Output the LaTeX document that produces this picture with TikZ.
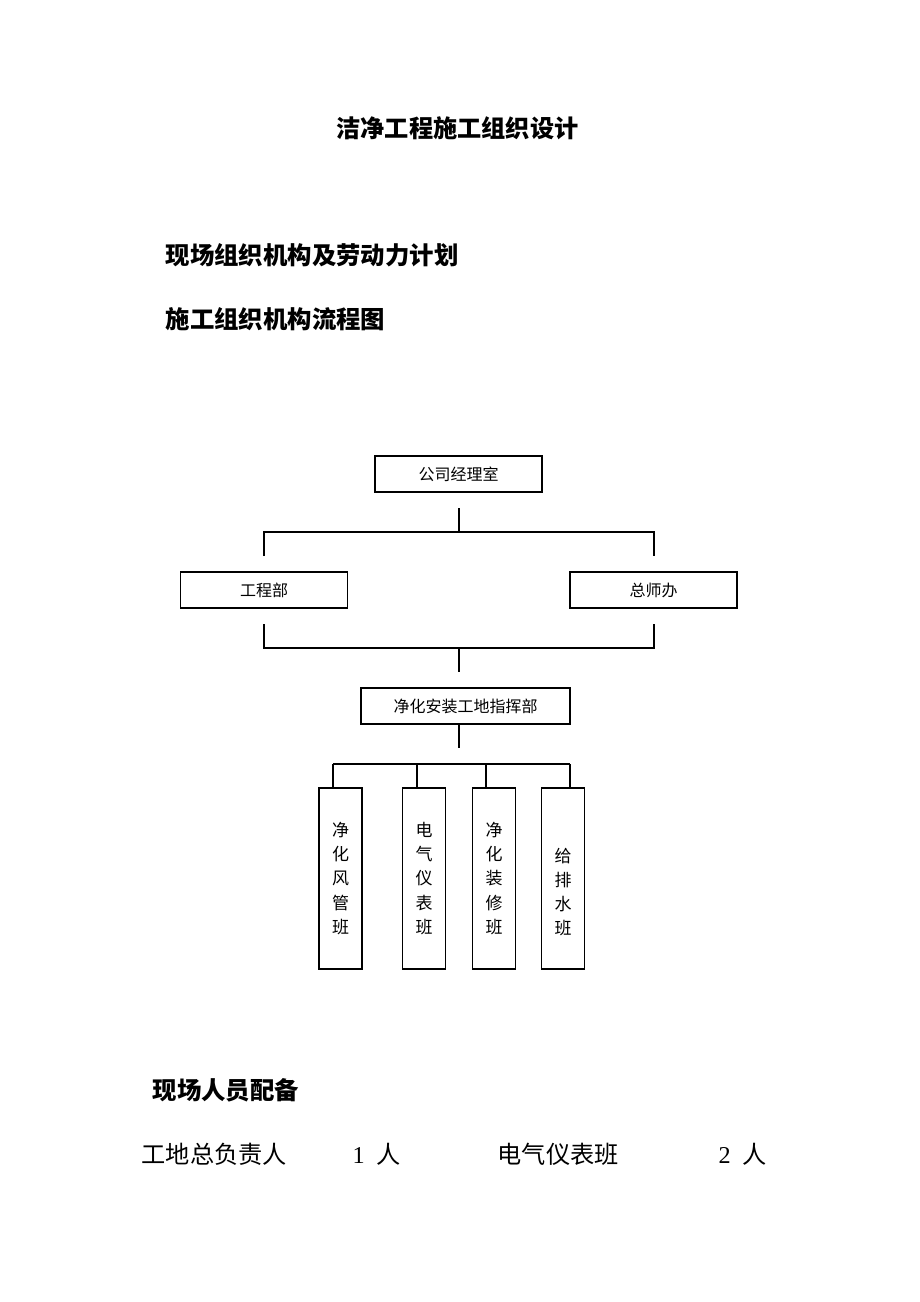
\documentclass[tikz,border=0pt]{standalone}
\usepackage{fontspec}
\setmainfont{Noto Sans CJK SC}
\newfontfamily\numfont{Liberation Serif}
\begin{document}
\begin{tikzpicture}[x=0.5pt, y=-0.5pt, line width=0.6pt,
    box/.style={draw, inner sep=0pt, minimum width=83.5pt, minimum height=18pt, font=\fontsize{8pt}{10pt}\selectfont},
    team/.style={draw, inner sep=0pt, minimum width=21.5pt, minimum height=90.5pt, align=center, font=\fontsize{8.5pt}{12.15pt}\selectfont},
    ttl/.style={inner sep=0pt, font=\bfseries\fontsize{12.1pt}{16pt}\selectfont},
    hdg/.style={anchor=west, inner sep=0pt, font=\bfseries\fontsize{12.2pt}{14pt}\selectfont},
    body/.style={anchor=west, inner sep=0pt, font=\fontsize{12.1pt}{14pt}\selectfont}]
    \useasboundingbox (0,0) rectangle (920,1302);
    % headings
    \node[ttl] (title) at (457.5,128) {洁净工程施工组织设计};
    \node[hdg] (plan) at (165,255) {现场组织机构及劳动力计划};
    \node[hdg] (flow) at (165,319) {施工组织机构流程图};
    % chart
    \node[box] (mgr) at (458.5,474) {公司经理室};
    \node[box] (eng) at (264,590) {工程部};
    \node[box] (chief) at (653.5,590) {总师办};
    \node[box, minimum width=104.5pt] (site) at (465.5,706) {净化安装工地指挥部};
    \node[team] (duct) at (340.5,878.5) {净\\化\\风\\管\\班};
    \node[team] (elec) at (424,878.5) {电\\气\\仪\\表\\班};
    \node[team] (deco) at (494,878.5) {净\\化\\装\\修\\班};
    \node[team] (water) at (563,878.5) {\strut\\给\\排\\水\\班};
    \coordinate (a1) at (459,508);
    \coordinate (a2) at (459,532);
    \coordinate (aL) at (264,532);
    \coordinate (aR) at (654,532);
    \coordinate (aLe) at (264,556);
    \coordinate (aRe) at (654,556);
    \draw (a1) -- (a2);
    \draw (aLe) -- (aL) -- (aR) -- (aRe);
    \coordinate (bL) at (264,624);
    \coordinate (bR) at (654,624);
    \coordinate (bLc) at (264,648);
    \coordinate (bRc) at (654,648);
    \coordinate (b1) at (459,648);
    \coordinate (b2) at (459,672);
    \draw (bL) -- (bLc) -- (bRc) -- (bR);
    \draw (b1) -- (b2);
    \coordinate (c1) at (459,724);
    \coordinate (c2) at (459,748);
    \draw (c1) -- (c2);
    \coordinate (d1) at (333,764);
    \coordinate (d2) at (417,764);
    \coordinate (d3) at (486,764);
    \coordinate (d4) at (570,764);
    \draw (d1) -- (d4);
    \draw (d1) -- (d1 |- duct.north);
    \draw (d2) -- (d2 |- elec.north);
    \draw (d3) -- (d3 |- deco.north);
    \draw (d4) -- (d4 |- water.north);
    % staffing
    \node[hdg] (staff) at (152,1090) {现场人员配备};
    \node[body] (lead) at (141,1154) {工地总负责人};
    \node[body] (leadn) at (352,1154) {{\numfont 1}\enspace 人};
    \node[body] (elecs) at (497,1154) {电气仪表班};
    \node[body] (elecn) at (718,1154) {{\numfont 2}\enspace 人};
  \end{tikzpicture}
\end{document}
